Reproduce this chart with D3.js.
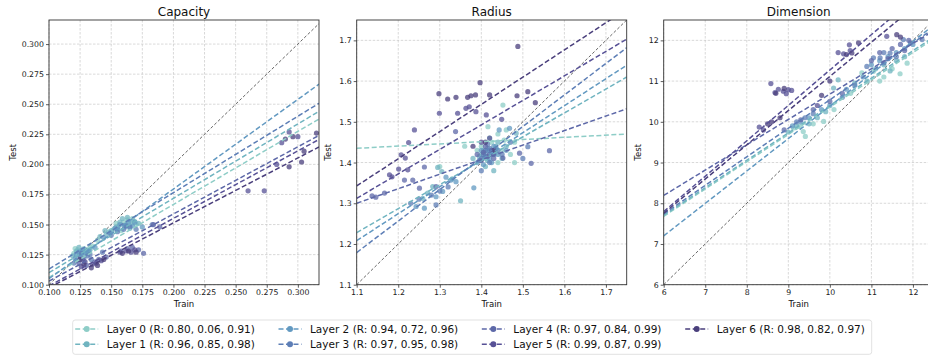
<!DOCTYPE html>
<html>
<head>
<meta charset="utf-8">
<script src="https://cdn.jsdelivr.net/npm/d3@7"></script>
<style>
  body { margin: 0; background: #fff; }
  svg { display: block; font-family: "DejaVu Sans", sans-serif; }
</style>
</head>
<body>
<svg id="chart" width="928" height="358"></svg>
<script>
// layers / legend
const layerNames = ["Layer 0", "Layer 1", "Layer 2", "Layer 3", "Layer 4", "Layer 5", "Layer 6"];
const layerR = [
  [0.80, 0.06, 0.91], [0.96, 0.85, 0.98], [0.94, 0.72, 0.96], [0.97, 0.95, 0.98],
  [0.97, 0.84, 0.99], [0.99, 0.87, 0.99], [0.98, 0.82, 0.97]
];
const layerColors = ["#8ecdc7", "#70b4c0", "#6299c1", "#5d7eb6", "#5d68a8", "#575196", "#4a3f7c"];

// panels
const panelTitles = ["Capacity", "Radius", "Dimension"];
const xDomains = [[0.1, 0.317], [1.1, 1.75], [6, 12.5]];
const yDomains = [[0.1, 0.32], [1.1, 1.75], [6, 12.5]];
const capacityTicks = [0.100, 0.125, 0.150, 0.175, 0.200, 0.225, 0.250, 0.275, 0.300];
const radiusTicks = [1.1, 1.2, 1.3, 1.4, 1.5, 1.6, 1.7];
const dimensionTicks = [6, 7, 8, 9, 10, 11, 12];
const tickFormats = [".3f", ".1f", "d"];

// fitted lines per layer: [intercept, slope]
const capacityFits = [
  [0.0453, 0.607], [0.0482, 0.618], [0.0305, 0.745], [0.0495, 0.635],
  [0.0472, 0.558], [0.0429, 0.561], [0.0436, 0.539]
];
const radiusFits = [
  [1.3758, 0.0538], [0.5815, 0.5877], [0.4786, 0.6631], [0.3278, 0.7738],
  [0.9074, 0.3569], [0.6503, 0.6015], [0.6077, 0.668]
];
const dimensionFits = [
  [3.66, 0.670], [3.67, 0.673], [2.424, 0.796], [3.54, 0.700],
  [4.46, 0.622], [2.581, 0.869], [2.715, 0.840]
];

// scatter points per layer: [train, test]
const capacityPoints = [
  [[0.120,0.126],[0.123,0.129],[0.125,0.124],[0.128,0.130],[0.131,0.127],[0.135,0.132],[0.139,0.137],[0.148,0.144],[0.152,0.146],[0.156,0.149],[0.160,0.152],[0.163,0.154],[0.166,0.151],[0.170,0.150],[0.158,0.145],[0.121,0.130],[0.127,0.127],[0.133,0.131],[0.154,0.151],[0.161,0.149],[0.167,0.155]],
  [[0.119,0.124],[0.122,0.128],[0.126,0.127],[0.129,0.125],[0.133,0.129],[0.141,0.140],[0.146,0.142],[0.150,0.145],[0.154,0.148],[0.159,0.155],[0.162,0.150],[0.165,0.147],[0.168,0.153],[0.172,0.151],[0.124,0.131],[0.130,0.129],[0.157,0.152],[0.163,0.156],[0.145,0.145]],
  [[0.121,0.122],[0.124,0.127],[0.127,0.129],[0.130,0.126],[0.137,0.131],[0.144,0.139],[0.149,0.143],[0.153,0.147],[0.157,0.150],[0.161,0.148],[0.164,0.152],[0.167,0.149],[0.175,0.148],[0.122,0.125],[0.132,0.128],[0.155,0.146],[0.169,0.152]],
  [[0.122,0.120],[0.125,0.123],[0.128,0.122],[0.131,0.124],[0.134,0.121],[0.143,0.127],[0.150,0.141],[0.155,0.144],[0.160,0.146],[0.165,0.148],[0.170,0.146],[0.183,0.150],[0.126,0.126],[0.133,0.125],[0.162,0.149],[0.120,0.118]],
  [[0.124,0.118],[0.127,0.121],[0.130,0.116],[0.137,0.119],[0.140,0.121],[0.146,0.123],[0.158,0.128],[0.163,0.130],[0.167,0.131],[0.172,0.129],[0.176,0.126],[0.184,0.150],[0.189,0.148]],
  [[0.126,0.115],[0.129,0.119],[0.135,0.117],[0.138,0.118],[0.142,0.120],[0.157,0.127],[0.162,0.128],[0.166,0.127],[0.169,0.129],[0.260,0.178],[0.273,0.178],[0.283,0.200],[0.287,0.218],[0.293,0.227],[0.300,0.223]],
  [[0.125,0.121],[0.128,0.117],[0.134,0.114],[0.139,0.116],[0.144,0.121],[0.159,0.126],[0.164,0.128],[0.170,0.127],[0.290,0.221],[0.293,0.198],[0.296,0.223],[0.303,0.202],[0.305,0.211],[0.315,0.226]]
];
const radiusPoints = [
  [[1.40,1.44],[1.42,1.46],[1.44,1.47],[1.45,1.43],[1.46,1.48],[1.48,1.45],[1.43,1.42],[1.41,1.41],[1.47,1.42],[1.452,1.541],[1.416,1.488],[1.39,1.43],[1.44,1.40],[1.48,1.40],[1.36,1.44],[1.30,1.39],[1.415,1.435],[1.425,1.45],[1.435,1.425],[1.455,1.455]],
  [[1.295,1.388],[1.305,1.378],[1.283,1.341],[1.271,1.325],[1.259,1.312],[1.33,1.36],[1.35,1.306],[1.38,1.41],[1.40,1.42],[1.42,1.43],[1.44,1.45],[1.46,1.44],[1.41,1.39],[1.45,1.41],[1.43,1.38],[1.484,1.472],[1.395,1.415],[1.415,1.405],[1.425,1.425],[1.435,1.44],[1.405,1.43]],
  [[1.243,1.292],[1.263,1.288],[1.291,1.316],[1.307,1.329],[1.315,1.364],[1.327,1.357],[1.339,1.353],[1.382,1.338],[1.39,1.40],[1.41,1.42],[1.42,1.41],[1.43,1.44],[1.44,1.42],[1.46,1.43],[1.468,1.484],[1.443,1.48],[1.40,1.43],[1.415,1.43],[1.425,1.40],[1.435,1.435],[1.405,1.395]],
  [[1.23,1.30],[1.25,1.31],[1.28,1.32],[1.30,1.33],[1.32,1.34],[1.291,1.296],[1.40,1.41],[1.41,1.43],[1.42,1.40],[1.43,1.42],[1.415,1.445],[1.45,1.42],[1.47,1.45],[1.512,1.439],[1.50,1.41],[1.40,1.38],[1.405,1.42],[1.42,1.435],[1.44,1.43],[1.395,1.405]],
  [[1.137,1.318],[1.146,1.315],[1.167,1.325],[1.215,1.357],[1.235,1.357],[1.251,1.337],[1.291,1.341],[1.263,1.389],[1.39,1.42],[1.41,1.44],[1.42,1.42],[1.43,1.41],[1.452,1.411],[1.492,1.423],[1.52,1.398],[1.564,1.429],[1.338,1.476],[1.405,1.425],[1.415,1.415],[1.425,1.43],[1.40,1.405]],
  [[1.179,1.370],[1.185,1.365],[1.201,1.384],[1.223,1.382],[1.207,1.419],[1.217,1.411],[1.225,1.449],[1.239,1.48],[1.299,1.521],[1.343,1.521],[1.363,1.533],[1.371,1.537],[1.387,1.525],[1.412,1.517],[1.449,1.506],[1.40,1.45],[1.42,1.46]],
  [[1.298,1.569],[1.319,1.556],[1.339,1.56],[1.367,1.56],[1.375,1.564],[1.386,1.566],[1.397,1.596],[1.42,1.566],[1.486,1.564],[1.512,1.574],[1.53,1.547],[1.488,1.685],[1.41,1.45],[1.43,1.43],[1.38,1.44]]
];
const dimensionPoints = [
  [[9.12,9.85],[9.27,9.89],[9.36,9.76],[9.41,9.64],[9.60,9.95],[9.85,10.01],[10.1,10.3],[10.5,10.7],[10.77,11.2],[11.05,11.24],[11.3,11.1],[11.5,11.3],[11.69,11.18],[11.86,11.44],[11.2,11.0]],
  [[9.0,9.75],[9.2,9.9],[9.5,9.95],[9.7,10.1],[9.9,10.25],[10.09,10.83],[10.2,11.03],[10.6,10.95],[10.9,11.0],[11.1,11.3],[11.3,11.4],[11.6,11.5],[11.8,11.6],[11.45,11.25]],
  [[9.1,9.9],[9.3,10.0],[9.5,10.1],[9.8,10.3],[10.0,10.4],[10.4,10.8],[10.8,11.1],[11.0,11.4],[11.2,11.5],[11.4,11.6],[11.6,11.7],[11.8,11.8],[12.0,11.9]],
  [[9.2,10.0],[9.4,10.1],[9.6,10.2],[10.3,10.6],[10.6,10.9],[10.89,11.36],[11.05,11.57],[11.21,11.57],[11.45,11.69],[11.6,11.6],[11.77,12.02],[11.94,11.94],[12.22,12.02],[11.3,11.7]],
  [[8.9,9.8],[9.3,10.05],[9.6,10.3],[10.0,10.5],[10.3,10.7],[11.0,11.5],[11.2,11.7],[11.4,11.55],[11.5,11.8],[11.7,11.9],[11.9,12.0],[11.3,11.45],[11.8,11.75]],
  [[8.30,9.87],[8.40,9.80],[8.58,10.94],[8.68,10.72],[8.76,10.80],[8.88,10.75],[8.95,10.69],[9.0,10.79],[9.08,10.77],[9.7,10.4],[10.2,11.7],[10.33,11.67],[10.49,11.75],[10.47,11.89],[11.37,12.10]],
  [[8.5,9.95],[8.6,10.0],[8.8,10.1],[8.70,10.70],[8.9,10.82],[10.53,11.69],[10.69,11.94],[10.4,11.65],[10.0,11.0],[11.61,12.14],[11.7,12.08],[9.8,10.65]]
];

const panelTicks = [capacityTicks, radiusTicks, dimensionTicks];
const panelFits = [capacityFits, radiusFits, dimensionFits];
const panelPoints = [capacityPoints, radiusPoints, dimensionPoints];

// layout
const panelLeft = [49, 356.7, 663.7];
const ylabelOffset = [33, 26, 23];
const plotTop = 20, plotW = 270, plotH = 264.7;

const svg = d3.select("#chart");

panelTitles.forEach((title, i) => {
  const g = svg.append("g").attr("transform", `translate(${panelLeft[i]},${plotTop})`);
  const x = d3.scaleLinear().domain(xDomains[i]).range([0, plotW]);
  const y = d3.scaleLinear().domain(yDomains[i]).range([plotH, 0]);
  const ticks = panelTicks[i];

  g.append("clipPath").attr("id", "clip" + i)
    .append("rect").attr("width", plotW).attr("height", plotH);

  // grid
  const grid = g.append("g").attr("stroke", "#c8c8c8").attr("stroke-width", 0.7)
    .attr("stroke-dasharray", "2.5,1.5");
  grid.selectAll("line.v").data(ticks).join("line").attr("class", "v")
    .attr("x1", d => x(d)).attr("x2", d => x(d)).attr("y1", 0).attr("y2", plotH);
  grid.selectAll("line.h").data(ticks).join("line").attr("class", "h")
    .attr("y1", d => y(d)).attr("y2", d => y(d)).attr("x1", 0).attr("x2", plotW);

  const body = g.append("g").attr("clip-path", `url(#clip${i})`);

  // y = x reference
  const lo = Math.min(xDomains[i][0], yDomains[i][0]);
  const hi = Math.max(xDomains[i][1], yDomains[i][1]);
  body.append("line")
    .attr("x1", x(lo)).attr("y1", y(lo)).attr("x2", x(hi)).attr("y2", y(hi))
    .attr("stroke", "#666").attr("stroke-width", 1).attr("stroke-dasharray", "3,2");

  // scatter
  panelPoints[i].forEach((pts, l) => {
    body.append("g").selectAll("circle").data(pts).join("circle")
      .attr("cx", d => x(d[0])).attr("cy", d => y(d[1])).attr("r", 2.6)
      .attr("fill", layerColors[l]).attr("fill-opacity", 0.75);
  });

  // fit lines
  panelFits[i].forEach((f, l) => {
    const [x0, x1] = xDomains[i];
    body.append("line")
      .attr("x1", x(x0)).attr("y1", y(f[0] + f[1] * x0))
      .attr("x2", x(x1)).attr("y2", y(f[0] + f[1] * x1))
      .attr("stroke", layerColors[l]).attr("stroke-width", 1.5)
      .attr("stroke-dasharray", "5,2.5");
  });

  // axes
  const fmt = d3.format(tickFormats[i]);
  const xAxis = g.append("g").attr("transform", `translate(0,${plotH})`)
    .call(d3.axisBottom(x).tickValues(ticks).tickFormat(fmt).tickSize(3).tickPadding(2));
  const yAxis = g.append("g")
    .call(d3.axisLeft(y).tickValues(ticks).tickFormat(fmt).tickSize(3).tickPadding(2));
  [xAxis, yAxis].forEach(a => {
    a.select(".domain").remove();
    a.selectAll(".tick line").attr("stroke", "#333").attr("stroke-width", 0.8);
    a.selectAll("text").attr("font-size", "7.8px").attr("fill", "#222")
      .attr("font-family", "DejaVu Sans");
  });

  g.append("rect").attr("width", plotW).attr("height", plotH)
    .attr("fill", "none").attr("stroke", "#333").attr("stroke-width", 0.9);

  // labels
  g.append("text").attr("x", plotW / 2).attr("y", -4.5)
    .attr("text-anchor", "middle").attr("font-size", "12px").attr("fill", "#111")
    .text(title);
  g.append("text").attr("x", plotW / 2).attr("y", plotH + 22.5)
    .attr("text-anchor", "middle").attr("font-size", "8.5px").attr("fill", "#111")
    .text("Train");
  g.append("text")
    .attr("transform", `translate(${-ylabelOffset[i]},${plotH / 2}) rotate(-90)`)
    .attr("text-anchor", "middle").attr("font-size", "8.5px").attr("fill", "#111")
    .text("Test");
});

// legend
const legendTextX = [106.7, 310, 513.3, 716.7];
const legendRowY = [329, 344.3];
const lg = svg.append("g");
lg.append("rect").attr("x", 72.7).attr("y", 320).attr("width", 799).attr("height", 34.3)
  .attr("rx", 2.5).attr("fill", "#fff").attr("stroke", "#d9d9d9").attr("stroke-width", 0.8);

layerNames.forEach((name, l) => {
  const col = Math.floor(l / 2), row = l % 2;
  const tx = legendTextX[col], ty = legendRowY[row];
  const item = lg.append("g");
  item.append("line").attr("x1", tx - 31.5).attr("x2", tx - 8.5).attr("y1", ty).attr("y2", ty)
    .attr("stroke", layerColors[l]).attr("stroke-width", 1.5).attr("stroke-dasharray", "5,2.5");
  item.append("circle").attr("cx", tx - 20).attr("cy", ty).attr("r", 3)
    .attr("fill", layerColors[l]);
  item.append("text").attr("x", tx).attr("y", ty).attr("dy", "0.35em")
    .attr("font-size", "10.5px").attr("fill", "#111")
    .text(`${name} (R: ${layerR[l].map(v => v.toFixed(2)).join(", ")})`);
});
</script>
</body>
</html>
